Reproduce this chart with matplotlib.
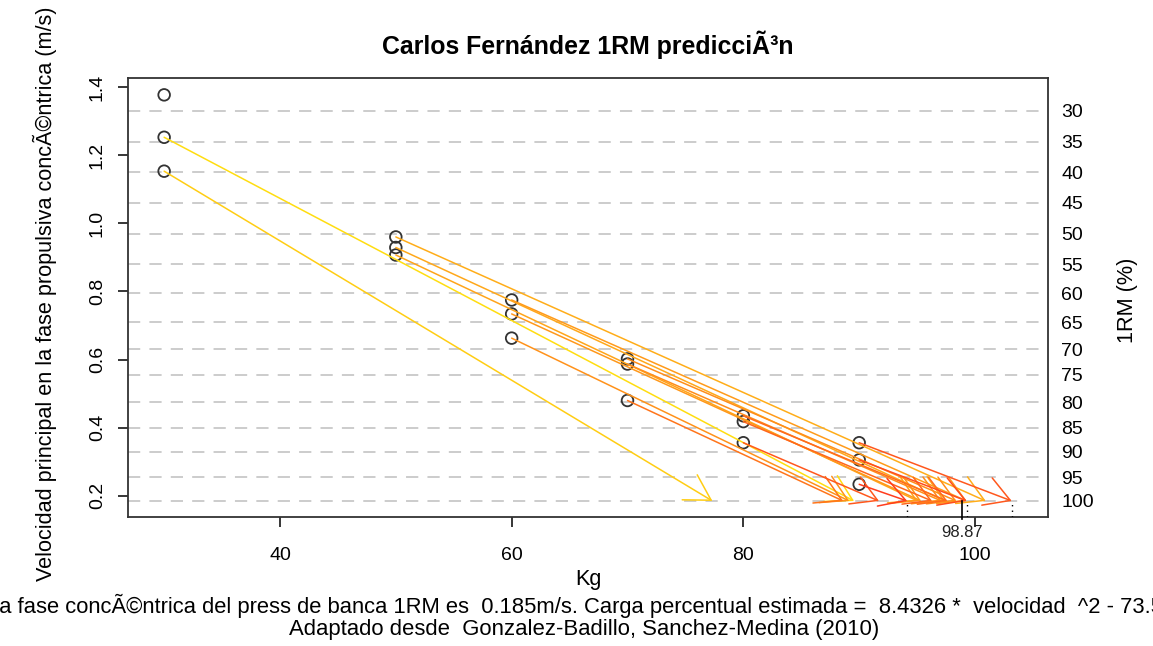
import numpy as np
import matplotlib
matplotlib.use("Agg")
import matplotlib.pyplot as plt
from matplotlib.colors import LinearSegmentedColormap

plt.rcParams['font.family'] = ['Liberation Sans', 'DejaVu Sans']

# Sets: load (kg) and mean propulsive velocity (m/s)
kg = [30, 30, 30, 50, 50, 50, 60, 60, 60, 70, 70, 70, 80, 80, 80, 90, 90, 90]
vel = [1.377, 1.2525, 1.153, 0.960, 0.929, 0.907, 0.775, 0.734, 0.663,
       0.602, 0.587, 0.480, 0.435, 0.418, 0.356, 0.356, 0.3057, 0.234]

# %1RM reference table (right axis)
pct_ticks = [30, 35, 40, 45, 50, 55, 60, 65, 70, 75, 80, 85, 90, 95, 100]
pct_vel = [1.33, 1.24, 1.15, 1.06, 0.97, 0.88, 0.795, 0.71, 0.63, 0.555,
           0.475, 0.40, 0.33, 0.255, 0.185]

V_1RM = 0.185
COEF = (8.4326, -73.501, 112.33)

TITLE = "Carlos Fernández 1RM predicciÃ³n"
YLABEL = "Velocidad principal en la fase propulsiva concÃ©ntrica (m/s)"
FOOT1 = ("La velocidad media en la fase concÃ©ntrica del press de banca 1RM es  0.185m/s. "
         "Carga percentual estimada =  8.4326 *  velocidad  ^2 - 73.501 *  velocidad + 112.33")
FOOT2 = "Adaptado desde  Gonzalez-Badillo, Sanchez-Medina (2010)"


def est_1rm(load, v):
    pct = COEF[0] * v ** 2 + COEF[1] * v + COEF[2]
    return load / (pct / 100.0)


W, H = 1153, 646
fig = plt.figure(figsize=(W / 100, H / 100), dpi=100)
ax = fig.add_axes([128 / W, 1 - 517 / H, 920 / W, 439 / H])
ax.set_xlim(26.88, 106.30)
ax.set_ylim(0.138, 1.4265)

# dashed reference lines at the %1RM velocities
for v in pct_vel:
    ax.axhline(v, color='#bebebe', lw=1.1, dashes=(8, 6), zorder=1)

ax.scatter(kg, vel, s=70, facecolors='none', edgecolors='#333333', linewidths=1.3, zorder=3)

cmap = LinearSegmentedColormap.from_list('yr', ['#ff3c1e', '#ff8c1a', '#ffa51a', '#ffdd10'])
use = [i for i in range(len(kg)) if vel[i] <= max(pct_vel)]
vmin = min(vel[i] for i in use)
vmax = max(vel[i] for i in use)
for i in use:
    rm = est_1rm(kg[i], vel[i])
    col = cmap((vel[i] - vmin) / (vmax - vmin))
    ax.annotate("", xy=(rm, V_1RM), xytext=(kg[i], vel[i]),
                arrowprops=dict(arrowstyle="->,head_length=1.8,head_width=1.05",
                                mutation_scale=10, color=col, lw=1.1,
                                shrinkA=0, shrinkB=0), zorder=4)

# estimates from the heaviest load
top = max(kg)
last = [est_1rm(kg[i], vel[i]) for i in range(len(kg)) if kg[i] == top]
y0 = ax.get_ylim()[0]
for rm in last:
    ax.plot([rm, rm], [y0, V_1RM], color='black', lw=1, ls=(0, (1, 3)), zorder=5)
mean_rm = np.mean(last)
ax.plot([mean_rm, mean_rm], [y0 - 0.006, V_1RM], color='black', lw=1.2, zorder=5, clip_on=False)
ax.text(mean_rm, -0.036, f"{mean_rm:.2f}", transform=ax.get_xaxis_transform(),
        ha='center', va='center', fontsize=12, color='#222222')

for s in ax.spines.values():
    s.set_color('#333333')
    s.set_linewidth(1.3)

ax.set_xticks([40, 60, 80, 100])
ax.set_yticks([0.2, 0.4, 0.6, 0.8, 1.0, 1.2, 1.4])
ax.tick_params(axis='x', length=7, width=1.1, pad=14.5, labelsize=14)
ax.tick_params(axis='y', length=7, width=1.1, pad=9, labelsize=14, rotation=90)
for lab in ax.get_yticklabels():
    lab.set_va('center')

ax2 = ax.twinx()
ax2.set_ylim(ax.get_ylim())
ax2.set_yticks(pct_vel)
ax2.set_yticklabels([str(p) for p in pct_ticks])
ax2.tick_params(axis='y', length=0, pad=9.5, labelsize=14)
for s in ax2.spines.values():
    s.set_visible(False)

fig.text(588 / W, 1 - 45 / H, TITLE, ha='center', va='center', fontsize=17.9, fontweight='bold')
fig.text(45 / W, 1 - 294 / H, YLABEL, ha='center', va='center', rotation=90, fontsize=15.6)
fig.text(1128 / W, 1 - 300 / H, "1RM (%)", ha='center', va='center', rotation=90, fontsize=15.6)
fig.text(588 / W, 1 - 579 / H, "Kg", ha='center', va='center', fontsize=15.6)
fig.text(583 / W, 1 - 606 / H, FOOT1, ha='center', va='center', fontsize=15.8)
fig.text(584 / W, 1 - 629 / H, FOOT2, ha='center', va='center', fontsize=15.9)

fig.savefig("out.png", dpi=100)
